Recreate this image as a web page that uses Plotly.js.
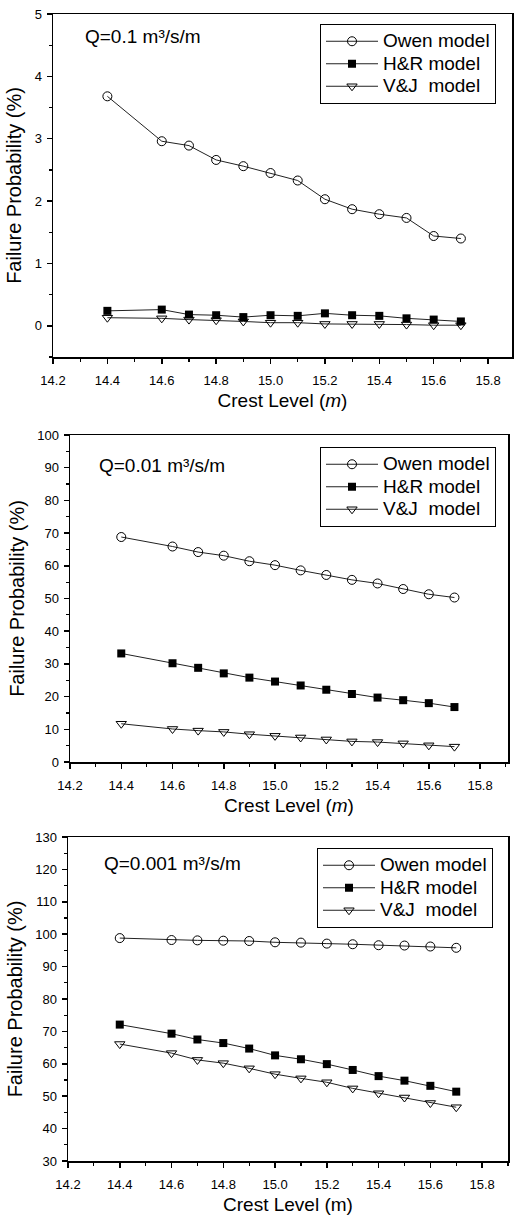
<!DOCTYPE html>
<html><head><meta charset="utf-8">
<script src="https://cdn.plot.ly/plotly-3.0.1.min.js"></script>
<style>html,body{margin:0;padding:0;background:#fff}#chart{width:514px;height:1216px}</style>
</head><body><div id="chart"></div>
<script>
// ---- data ----
const crestLevel = [14.4, 14.6, 14.7, 14.8, 14.9, 15.0, 15.1, 15.2, 15.3, 15.4, 15.5, 15.6, 15.7];
// Q = 0.1 m3/s/m
const owenQ1 = [3.68, 2.96, 2.89, 2.66, 2.56, 2.45, 2.33, 2.03, 1.87, 1.79, 1.73, 1.44, 1.40];
const hrQ1   = [0.24, 0.26, 0.18, 0.17, 0.14, 0.17, 0.16, 0.20, 0.17, 0.16, 0.12, 0.10, 0.07];
const vjQ1   = [0.13, 0.12, 0.10, 0.09, 0.07, 0.05, 0.05, 0.03, 0.03, 0.03, 0.02, 0.01, 0.01];
// Q = 0.01 m3/s/m
const owenQ2 = [68.8, 65.9, 64.2, 63.1, 61.4, 60.2, 58.6, 57.2, 55.7, 54.6, 52.9, 51.3, 50.3];
const hrQ2   = [33.2, 30.2, 28.8, 27.1, 25.8, 24.6, 23.4, 22.1, 20.8, 19.7, 18.9, 18.0, 16.8];
const vjQ2   = [11.7, 10.1, 9.6, 9.2, 8.5, 8.0, 7.5, 6.9, 6.3, 6.1, 5.7, 5.1, 4.7];
// Q = 0.001 m3/s/m
const owenQ3 = [98.8, 98.2, 98.1, 98.0, 97.9, 97.5, 97.4, 97.1, 96.9, 96.6, 96.5, 96.2, 95.8];
const hrQ3   = [72.1, 69.3, 67.5, 66.4, 64.7, 62.6, 61.4, 59.9, 58.1, 56.2, 54.8, 53.2, 51.4];
const vjQ3   = [66.1, 63.3, 61.2, 60.2, 58.6, 56.8, 55.5, 54.3, 52.4, 50.9, 49.6, 47.9, 46.6];

const seriesNames = ['Owen model', 'H&amp;R model', 'V&amp;J\u00a0 model'];
const qLabels = ['Q=0.1 m\u00b3/s/m', 'Q=0.01 m\u00b3/s/m', 'Q=0.001 m\u00b3/s/m'];
const xTitles = ['Crest Level (<i>m</i>)', 'Crest Level (<i>m</i>)', 'Crest Level (m)'];
const yTitle = 'Failure Probability (%)';

// ---- layout geometry (px) ----
const W = 514, H = 1216;
const FONT = 'Liberation Sans, Arial, Helvetica, sans-serif';
const panels = [
  {x0: 53, x1: 512, yTop: 14,  yBot: 357,  xr: [14.2, 15.888], yr: [-0.5, 5],  ydt: 1,  ymin: 0.5, leg: [320, 24],  ann: [83, 37]},
  {x0: 70, x1: 508, yTop: 435, yBot: 762,  xr: [14.2, 15.909], yr: [0, 100],   ydt: 10, ymin: 5,   leg: [320, 447], ann: [97, 465]},
  {x0: 68, x1: 508, yTop: 837, yBot: 1161, xr: [14.2, 15.9],   yr: [30, 130],  ydt: 10, ymin: 5,   leg: [317, 848], ann: [102, 863]}
];
const yData = [[owenQ1, hrQ1, vjQ1], [owenQ2, hrQ2, vjQ2], [owenQ3, hrQ3, vjQ3]];
const markers = [
  {symbol: 'circle-open', size: 9, color: '#000', line: {width: 1, color: '#000'}},
  {symbol: 'square', size: 8, color: '#000', line: {width: 0}},
  {symbol: 'triangle-down-open', size: 9, color: '#000', line: {width: 1, color: '#000'}}
];

const traces = [];
const layout = {
  width: W, height: H,
  margin: {l: 0, r: 0, t: 0, b: 0},
  paper_bgcolor: '#fff', plot_bgcolor: '#fff',
  font: {family: FONT, color: '#000'},
  showlegend: true,
  annotations: []
};

panels.forEach((p, i) => {
  const sfx = i === 0 ? '' : String(i + 1);
  const xa = 'x' + sfx, ya = 'y' + sfx;
  const legName = 'legend' + sfx;
  yData[i].forEach((vals, k) => {
    traces.push({
      type: 'scatter', mode: 'lines+markers',
      x: crestLevel, y: vals,
      name: '<span style="font-size:19px">' + seriesNames[k] + '</span>',
      xaxis: xa, yaxis: ya, legend: legName,
      line: {color: '#222', width: 1},
      marker: markers[k],
      cliponaxis: false
    });
  });
  layout['xaxis' + sfx] = {
    domain: [p.x0 / W, p.x1 / W], range: p.xr, anchor: ya,
    tick0: 14.2, dtick: 0.2, tickformat: '.1f',
    ticks: 'outside', ticklen: 5, tickwidth: 1.5, tickcolor: '#000',
    minor: {dtick: 0.1, tick0: 14.2, ticks: 'outside', ticklen: 3, tickwidth: 1.2, tickcolor: '#000', showgrid: false},
    showline: true, linecolor: '#000', linewidth: 1.5, mirror: true,
    showgrid: false, zeroline: false, ticklabelstandoff: 6,
    tickfont: {size: 13, family: FONT, color: '#000'},
    title: {text: xTitles[i], font: {size: 19, family: FONT, color: '#000'}, standoff: 6}
  };
  layout['yaxis' + sfx] = {
    domain: [1 - p.yBot / H, 1 - p.yTop / H], range: p.yr, anchor: xa,
    tick0: 0, dtick: p.ydt,
    ticks: 'outside', ticklen: 5, tickwidth: 1.5, tickcolor: '#000',
    minor: {dtick: p.ymin, ticks: 'outside', ticklen: 3, tickwidth: 1.2, tickcolor: '#000', showgrid: false},
    showline: true, linecolor: '#000', linewidth: 1.5, mirror: true,
    showgrid: false, zeroline: false, ticklabelstandoff: 2,
    tickfont: {size: 13, family: FONT, color: '#000'},
    title: {text: yTitle, font: {size: 20, family: FONT, color: '#000'}, standoff: 7}
  };
  layout[legName] = {
    x: p.leg[0] / W, y: 1 - p.leg[1] / H, xanchor: 'left', yanchor: 'top',
    xref: 'paper', yref: 'paper',
    bgcolor: '#fff', bordercolor: '#000', borderwidth: 1,
    font: {size: 15, family: FONT, color: '#000'},
    itemwidth: 52, tracegroupgap: 0
  };
  layout.annotations.push({
    text: qLabels[i], xref: 'paper', yref: 'paper',
    x: p.ann[0] / W, y: 1 - p.ann[1] / H, xanchor: 'left', yanchor: 'middle',
    showarrow: false, font: {size: 19, family: FONT, color: '#000'}
  });
});

Plotly.newPlot('chart', traces, layout, {displayModeBar: false, staticPlot: true});
</script>
</body></html>
